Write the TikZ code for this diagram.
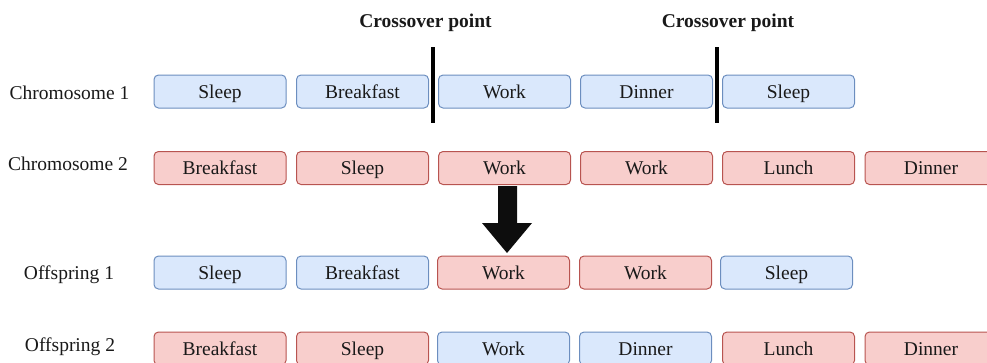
\documentclass[tikz,border=0pt]{standalone}
\usepackage{fontspec}
\setmainfont{Liberation Serif}
\definecolor{bfill}{HTML}{DAE8FC}
\definecolor{bdraw}{HTML}{6C8EBF}
\definecolor{rfill}{HTML}{F8CECC}
\definecolor{rdraw}{HTML}{B85450}
\begin{document}
\begin{tikzpicture}[x=1pt,y=-1pt,
  gene/.style={rounded corners=4.5pt,line width=1pt,minimum width=132pt,minimum height=33pt,inner sep=0pt,text height=17pt,text depth=4pt,text=black!90,font=\fontsize{19.5}{22}\selectfont},
  bgene/.style={gene,draw=bdraw,fill=bfill},
  rgene/.style={gene,draw=rdraw,fill=rfill},
  rowlabel/.style={font=\fontsize{19.5}{22}\selectfont,inner sep=0pt,anchor=base,text=black!90},
  xlabel/.style={font=\bfseries\fontsize{19.5}{22}\selectfont,inner sep=0pt,anchor=base,text=black!90},
  cut/.style={line width=4pt}]
\useasboundingbox (0,0) rectangle (987,362);
\clip (0,0) rectangle (987,362);
% row labels
\node[rowlabel] (l1) at (69.5,99) {Chromosome 1};
\node[rowlabel] (l2) at (68,170) {Chromosome 2};
\node[rowlabel] (l3) at (69,279) {Offspring 1};
\node[rowlabel] (l4) at (70,351) {Offspring 2};
% crossover labels
\node[xlabel] (x1) at (425.5,27) {Crossover point};
\node[xlabel] (x2) at (728,27) {Crossover point};
% chromosome 1
\node[bgene] (a1) at (220,91.5) {Sleep};
\node[bgene] (a2) at (362.5,91.5) {Breakfast};
\node[bgene] (a3) at (504.5,91.5) {Work};
\node[bgene] (a4) at (646.5,91.5) {Dinner};
\node[bgene] (a5) at (788.5,91.5) {Sleep};
% chromosome 2
\node[rgene] (b1) at (220,168) {Breakfast};
\node[rgene] (b2) at (362.5,168) {Sleep};
\node[rgene] (b3) at (504.5,168) {Work};
\node[rgene] (b4) at (646.5,168) {Work};
\node[rgene] (b5) at (788.5,168) {Lunch};
\node[rgene] (b6) at (931,168) {Dinner};
% offspring 1
\node[bgene] (c1) at (220,272.5) {Sleep};
\node[bgene] (c2) at (362.5,272.5) {Breakfast};
\node[rgene] (c3) at (503.5,272.5) {Work};
\node[rgene] (c4) at (645.5,272.5) {Work};
\node[bgene] (c5) at (786.5,272.5) {Sleep};
% offspring 2
\node[rgene] (d1) at (220,348.5) {Breakfast};
\node[rgene] (d2) at (362.5,348.5) {Sleep};
\node[bgene] (d3) at (503.5,348.5) {Work};
\node[bgene] (d4) at (645.5,348.5) {Dinner};
\node[rgene] (d5) at (788.5,348.5) {Lunch};
\node[rgene] (d6) at (931,348.5) {Dinner};
% crossover cuts
\coordinate (k1t) at (433,47);
\coordinate (k1b) at (433,123);
\coordinate (k2t) at (717,47);
\coordinate (k2b) at (717,123);
\draw[cut] (k1t) -- (k1b);
\draw[cut] (k2t) -- (k2b);
% block arrow
\fill[black!95] (498,186) -- (517,186) -- (517,223) -- (532,223) -- (507,253) -- (482,223) -- (498,223) -- cycle;
\end{tikzpicture}
\end{document}
